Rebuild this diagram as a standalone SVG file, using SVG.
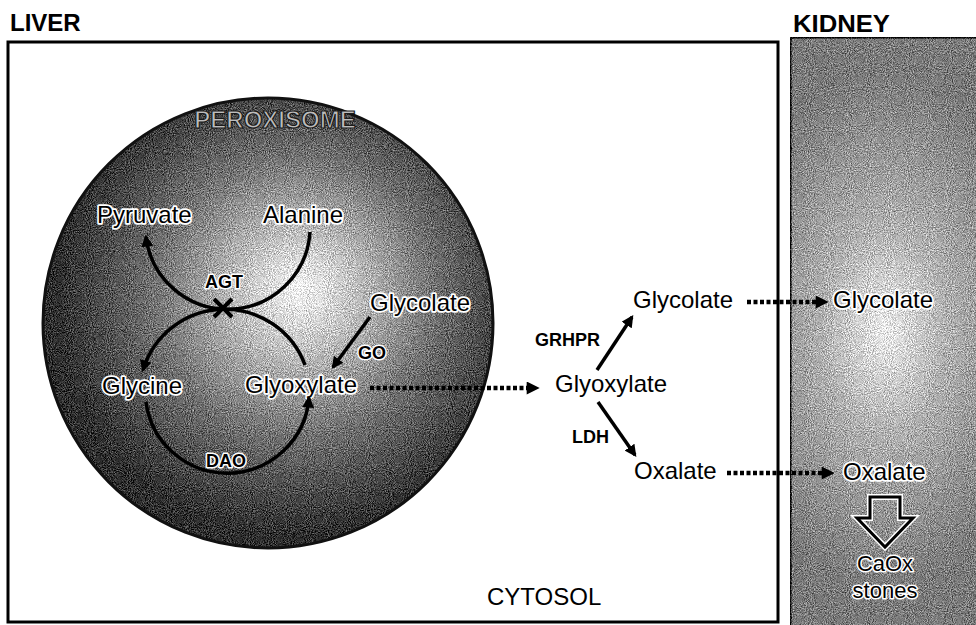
<svg xmlns="http://www.w3.org/2000/svg" width="976" height="625" viewBox="0 0 976 625">
<style>
  text { font-family: "Liberation Sans", Arial, sans-serif; fill: #000; }
  .title { font-size: 24px; font-weight: bold; }
  .lbl { font-size: 24px; }
  .halo { font-size: 24px; stroke: #fff; stroke-width: 3.5px; paint-order: stroke; stroke-linejoin: round; }
  .halo2 { font-size: 22px; stroke: #fff; stroke-width: 3px; paint-order: stroke; stroke-linejoin: round; }
  .enz { font-size: 18px; font-weight: bold; }
  .enzh { font-size: 18px; font-weight: bold; stroke: #fff; stroke-width: 3px; paint-order: stroke; stroke-linejoin: round; }
  .perox { font-size: 24px; font-weight: bold; fill: #bdbdbd; stroke: #1a1a1a; stroke-width: 1.2px; }
  .solid { fill: none; stroke: #000; stroke-width: 3.5; marker-end: url(#head); }
  .dots { fill: none; stroke: #000; stroke-width: 4.5; stroke-dasharray: 4 2.5; marker-end: url(#dhead); }
  .box { stroke: #000; stroke-width: 3; }
</style>
<defs>
  <marker id="head" viewBox="0 0 10 10" refX="8" refY="5" markerWidth="12" markerHeight="12" markerUnits="userSpaceOnUse" orient="auto">
    <path d="M0,0 L10,5 L0,10 Z" fill="#000"/>
  </marker>
  <marker id="dhead" viewBox="0 0 10 10" refX="1" refY="5" markerWidth="14" markerHeight="13" markerUnits="userSpaceOnUse" orient="auto">
    <path d="M0,0 L10,5 L0,10 Z" fill="#000"/>
  </marker>
  <radialGradient id="pgrad" gradientUnits="userSpaceOnUse" cx="290" cy="300" r="235" fx="300" fy="290">
    <stop offset="0" stop-color="#f6f6f6"/>
    <stop offset="0.22" stop-color="#c6c6c6"/>
    <stop offset="0.6" stop-color="#707070"/>
    <stop offset="1" stop-color="#2e2e2e"/>
  </radialGradient>
  <radialGradient id="kgrad" gradientUnits="userSpaceOnUse" cx="885" cy="330" r="260" gradientTransform="translate(885 330) scale(0.6 1) translate(-885 -330)">
    <stop offset="0" stop-color="#ececec"/>
    <stop offset="0.4" stop-color="#b0b0b0"/>
    <stop offset="1" stop-color="#7a7a7a"/>
  </radialGradient>
  <filter id="grain" x="0" y="0" width="100%" height="100%" color-interpolation-filters="sRGB">
    <feTurbulence type="fractalNoise" baseFrequency="0.95" numOctaves="2" seed="4" result="n"/>
    <feColorMatrix in="n" type="matrix" values="1 0 0 0 0  1 0 0 0 0  1 0 0 0 0  0 0 0 0 1" result="g"/>
    <feComposite in="g" in2="SourceGraphic" operator="arithmetic" k1="0" k2="0.9" k3="1" k4="-0.45" result="c"/>
    <feComposite in="c" in2="SourceAlpha" operator="in"/>
  </filter>
</defs>

<g id="liver">
  <rect class="box" x="8" y="42" width="770" height="580" fill="#fff"/>
  <text class="title" x="10" y="31">LIVER</text>
  <text class="lbl" x="487" y="605">CYTOSOL</text>
</g>

<g id="kidney">
  <rect class="box" x="790" y="37" width="200" height="600" fill="url(#kgrad)" filter="url(#grain)"/>
  <text class="title" x="793" y="32" textLength="97" lengthAdjust="spacingAndGlyphs">KIDNEY</text>
</g>

<g id="peroxisome">
  <circle cx="268" cy="323" r="225" fill="url(#pgrad)" filter="url(#grain)"/>
  <circle cx="268" cy="323" r="225" fill="none" stroke="#111" stroke-width="3"/>
  <text class="perox" x="275" y="128" text-anchor="middle">PEROXISOME</text>
</g>

<g id="pyruvate"><text class="halo" x="97" y="223">Pyruvate</text></g>
<g id="alanine"><text class="halo" x="263" y="223">Alanine</text></g>
<g id="glycolate-perox"><text class="halo" x="370" y="311">Glycolate</text></g>
<g id="glycine"><text class="halo" x="102" y="394">Glycine</text></g>
<g id="glyoxylate-perox"><text class="halo" x="245" y="393">Glyoxylate</text></g>

<g id="glycolate-cyto"><text class="lbl" x="633" y="308">Glycolate</text></g>
<g id="glyoxylate-cyto"><text class="lbl" x="555" y="392">Glyoxylate</text></g>
<g id="oxalate-cyto"><text class="lbl" x="634" y="479">Oxalate</text></g>

<g id="glycolate-kidney"><text class="halo" x="833" y="308">Glycolate</text></g>
<g id="oxalate-kidney"><text class="halo" x="843" y="480">Oxalate</text></g>
<g id="caox-stones">
  <text class="halo2" x="885" y="571" text-anchor="middle">CaOx</text>
  <text class="halo2" x="885" y="598" text-anchor="middle">stones</text>
</g>

<g id="connectors">
  <!-- AGT transamination -->
  <path class="solid" d="M310,232 A82.4,82.4 0 0,1 146,237"/>
  <path class="solid" d="M305,365 A85.5,85.5 0 0,0 143,370"/>
  <path d="M214,299 L232,317 M232,299 L214,317" stroke="#000" stroke-width="4" fill="none"/>
  <text class="enzh" x="224" y="288" text-anchor="middle">AGT</text>
  <!-- DAO -->
  <path class="solid" d="M146,402 A82,82 0 0,0 309,398"/>
  <text class="enzh" x="226" y="467" text-anchor="middle">DAO</text>
  <!-- GO -->
  <path class="solid" d="M370,317 L333,367"/>
  <text class="enzh" x="358" y="359">GO</text>
  <!-- export -->
  <path class="dots" d="M370,388 L528,388"/>
  <!-- GRHPR / LDH -->
  <path class="solid" d="M597,370 L632,317"/>
  <text class="enz" x="535" y="346">GRHPR</text>
  <path class="solid" d="M598,402 L635,455"/>
  <text class="enz" x="572" y="443">LDH</text>
  <!-- to kidney -->
  <path class="dots" d="M747,302 L817,302"/>
  <path class="dots" d="M727,473 L823,473"/>
  <!-- hollow arrow -->
  <polygon points="870,497 900,497 900,518 913,518 885,547 857,518 870,518" fill="none" stroke="#fff" stroke-width="6" stroke-linejoin="miter"/>
  <polygon points="870,497 900,497 900,518 913,518 885,547 857,518 870,518" fill="none" stroke="#000" stroke-width="3" stroke-linejoin="miter"/>
</g>
</svg>
